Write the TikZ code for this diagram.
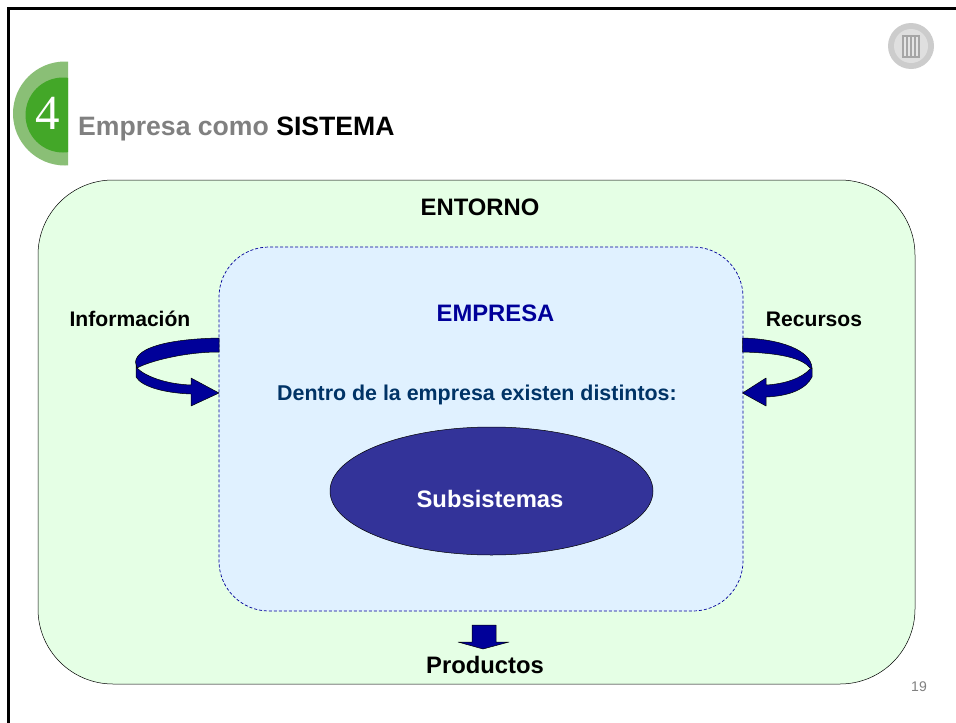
\documentclass[tikz,border=0pt]{standalone}
\usepackage{fontspec}
\usetikzlibrary{shapes.geometric}
\setmainfont{Liberation Sans}
\newfontfamily\numfont{Liberation Serif}
\definecolor{envfill}{HTML}{E5FFE5}
\definecolor{firmfill}{HTML}{E0F1FF}
\definecolor{navy}{HTML}{000099}
\definecolor{ovalblue}{HTML}{333399}
\definecolor{teal}{HTML}{003366}
\definecolor{greyt}{HTML}{808080}
\definecolor{ringg}{HTML}{8ABF76}
\definecolor{coreg}{HTML}{43A728}
\tikzset{
  lbl/.style={font=\bfseries\fontsize{23.8}{28}\selectfont,inner sep=0pt,anchor=center},
  lblsm/.style={font=\bfseries\fontsize{21.1}{25}\selectfont,inner sep=0pt,anchor=center},
  band/.style={fill=navy,draw=black,line width=0.5pt,line join=round},
}
\begin{document}
\begin{tikzpicture}[x=1pt,y=-1pt]
\useasboundingbox (0,0) rectangle (956,723);
\fill[white] (0,0) rectangle (956,723);
\draw[line width=3pt] (8.5,723) -- (8.5,8.5) -- (956,8.5);
% section icon
\begin{scope}
\clip (0,59) rectangle (68,166);
\fill[ringg] (65,113.5) circle (52);
\fill[coreg] (63,115) circle (37.5);
\end{scope}
\node[inner sep=0pt,text=white,font=\numfont\fontsize{49}{49}\selectfont] (four) at (48,113.5) {4};
% seal
\fill[gray!40] (911,46) circle (23);
\fill[white!75!gray] (911,46) circle (17);
\fill[gray!70] (902,35) rectangle (920,58);
\foreach \x in {904,908,912,916}{\fill[white!80!gray] (\x,37) rectangle (\x+1.5,56);}
% title
\node[anchor=base west,inner sep=0pt,font=\bfseries\fontsize{26.6}{30}\selectfont,text=greyt] (title) at (78,135) {Empresa como \textcolor{black}{SISTEMA}};
% boxes
\node[draw=black,line width=0.5pt,fill=envfill,rounded corners=75,minimum width=877,minimum height=504,inner sep=0pt] (entorno) at (476.5,432) {};
\node[draw=navy,dash pattern=on 3pt off 2pt,line width=0.7pt,fill=firmfill,rounded corners=50,minimum width=524,minimum height=364,inner sep=0pt] (empresa) at (481,429) {};
\node[ellipse,draw=black,line width=0.5pt,fill=ovalblue,minimum width=323,minimum height=128,inner sep=0pt] (oval) at (491.5,491) {};
% labels
\node[lbl] (lent) at (480,207) {ENTORNO};
\node[lbl,text=navy] (lemp) at (495.5,313.5) {EMPRESA};
\node[lblsm,text=teal,font=\bfseries\fontsize{21.4}{25}\selectfont] (ldentro) at (477,395) {Dentro de la empresa existen distintos:};
\node[lbl,text=white] (lsub) at (490,499) {Subsistemas};
\node[lblsm] (linf) at (130,319) {Información};
\node[lblsm] (lrec) at (814,319) {Recursos};
\node[lbl] (lpro) at (485,665) {Productos};
\node[inner sep=0pt,text=greyt,font=\fontsize{14}{16}\selectfont] (page) at (919,687) {19};
% left arrow
\draw[band] (219,393) -- (191,378) -- (191,385)
  .. controls (165,384) and (145,376) .. (137,368)
  -- (136,362) -- (136,377)
  .. controls (142,387) and (165,393) .. (191,394)
  -- (191,406) -- cycle;
\draw[band] (219,338) .. controls (170,339) and (137,347) .. (135.5,362)
  -- (137,368) .. controls (150,361) and (185,352) .. (219,352) -- cycle;
% right arrow
\draw[band] (742.5,393) -- (766,378) -- (766,385)
  .. controls (785,384) and (802,378) .. (810,369)
  -- (812,368) -- (812,377)
  .. controls (806,389) and (790,396) .. (766,397)
  -- (766,406) -- cycle;
\draw[band] (742.5,338) .. controls (780,339) and (811,350) .. (812,368)
  -- (810,368) .. controls (802,358) and (780,353) .. (742.5,352) -- cycle;
% down arrow
\draw[band] (472,625) -- (496,625) -- (496,642) -- (509,642) -- (483,649) -- (458,642) -- (472,642) -- cycle;
\end{tikzpicture}
\end{document}
